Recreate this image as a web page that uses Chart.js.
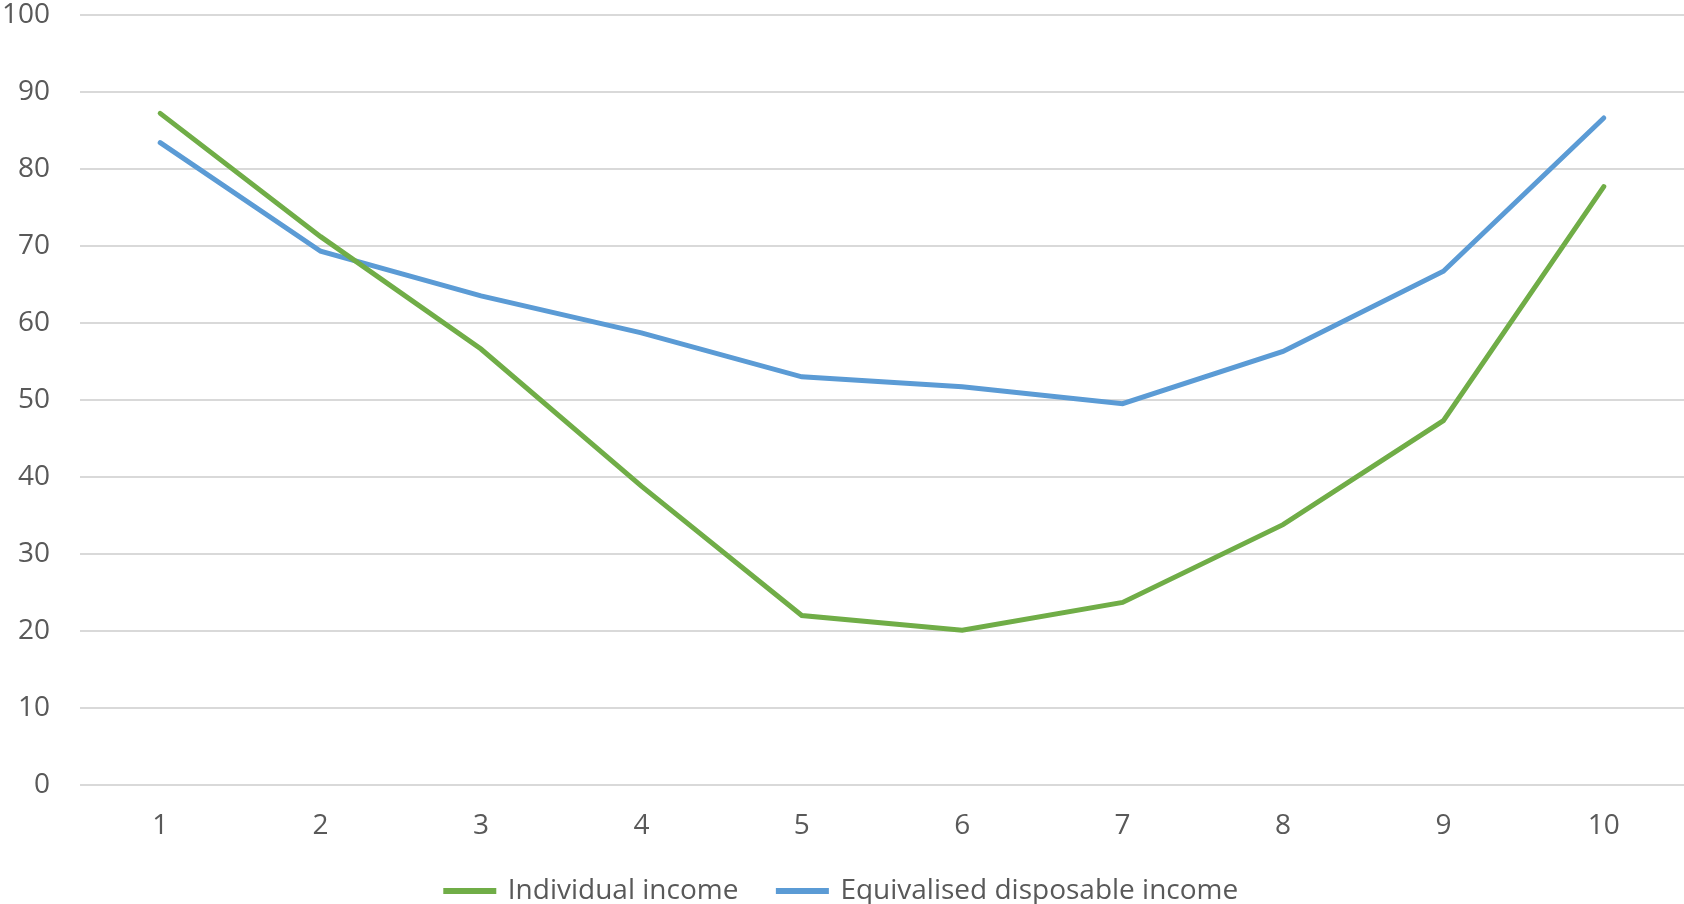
<!DOCTYPE html>
<html lang="en">
<head>
  <meta charset="UTF-8">
  <title>Income by decile</title>
  <script src="https://cdn.jsdelivr.net/npm/chart.js"></script>
  <style>
    html, body { margin: 0; padding: 0; background: #fff; overflow: hidden; }
    /* canvas shifted up so the plot area starts right under the top edge */
    #wrap { width: 1684px; height: 947px; position: absolute; left: 0; top: -32px; }
  </style>
</head>
<body>
  <div id="wrap"><canvas id="chart"></canvas></div>

  <script>
    // deciles
    const labels = ["1", "2", "3", "4", "5", "6", "7", "8", "9", "10"];
    const individualIncome = [87.2, 71.2, 56.6, 38.8, 22.0, 20.1, 23.7, 33.8, 47.3, 77.7];
    const equivalisedIncome = [83.4, 69.3, 63.5, 58.7, 53.0, 51.7, 49.5, 56.3, 66.7, 86.6];
    const seriesNames = ["Individual income", "Equivalised disposable income"];

    const GREEN = "#70ad47";
    const BLUE = "#5b9bd5";
    const TEXT = "#595959";
    const FONT = "'Open Sans', sans-serif";

    Chart.defaults.font.family = FONT;
    Chart.defaults.color = TEXT;

    new Chart(document.getElementById("chart"), {
      type: "line",
      data: {
        labels: labels,
        datasets: [
          {
            label: seriesNames[0],
            data: individualIncome,
            borderColor: GREEN,
            backgroundColor: GREEN,
            borderWidth: 5,
            borderCapStyle: "round",
            pointRadius: 0,
            tension: 0
          },
          {
            label: seriesNames[1],
            data: equivalisedIncome,
            borderColor: BLUE,
            backgroundColor: BLUE,
            borderWidth: 5,
            borderCapStyle: "round",
            pointRadius: 0,
            tension: 0
          }
        ]
      },
      options: {
        responsive: true,
        maintainAspectRatio: false,
        animation: false,
        layout: { padding: 0 },
        plugins: {
          tooltip: { enabled: false },
          legend: {
            position: "bottom",
            labels: {
              boxWidth: 48,
              boxHeight: 1,
              padding: 40,
              color: TEXT,
              font: { size: 28 }
            }
          }
        },
        scales: {
          x: {
            offset: true,
            grid: { display: false, drawTicks: false },
            border: { display: false },
            ticks: { padding: 24, font: { size: 28 }, color: TEXT },
            afterFit: (scale) => { scale.height = 52; }
          },
          y: {
            min: 0,
            max: 100,
            grid: { color: "#d9d9d9", lineWidth: 2, drawTicks: false },
            border: { display: false },
            ticks: { stepSize: 10, padding: 30, font: { size: 28 }, color: TEXT },
            afterFit: (scale) => { scale.width = 80; }
          }
        }
      }
    });
  </script>
</body>
</html>
